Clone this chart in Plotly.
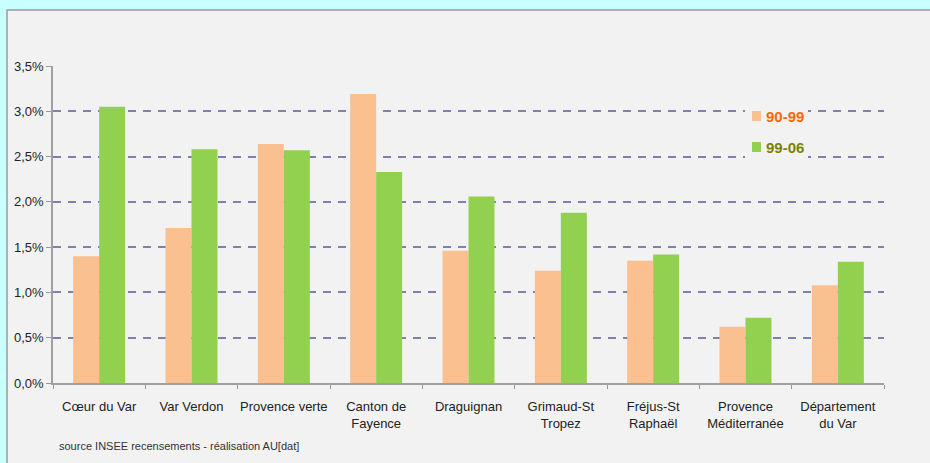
import plotly.graph_objects as go

# Annual population growth rate by territory, two intercensal periods
categories = [
    "Cœur du Var", "Var Verdon", "Provence verte", "Canton de<br>Fayence",
    "Draguignan", "Grimaud-St<br>Tropez", "Fréjus-St<br>Raphaël",
    "Provence<br>Méditerranée", "Département<br>du Var",
]
rate_90_99 = [1.40, 1.71, 2.64, 3.19, 1.46, 1.24, 1.35, 0.62, 1.08]
rate_99_06 = [3.05, 2.58, 2.57, 2.33, 2.06, 1.88, 1.42, 0.72, 1.34]
y_ticks = [0, 0.5, 1.0, 1.5, 2.0, 2.5, 3.0, 3.5]
y_tick_labels = ["0,0%", "0,5%", "1,0%", "1,5%", "2,0%", "2,5%", "3,0%", "3,5%"]
series_names = ["90-99", "99-06"]
series_colors = ["#FAC090", "#92D050"]
legend_text_colors = ["#FF6600", "#808000"]

FONT = "Liberation Sans, Arial, sans-serif"
PANEL = "#F2F2F2"
GRID = "rgb(128,128,176)"

# plot-area geometry in pixels, used to place paper-relative decorations
L, R, T, B = 53, 884, 66, 383
W, H = R - L, B - T


def px(x):
    return (x - L) / W


def py(y):
    return (B - y) / H


fig = go.Figure()
for name, vals, col in zip(series_names, [rate_90_99, rate_99_06], series_colors):
    fig.add_trace(go.Bar(
        x=categories, y=vals, name=name, showlegend=False,
        marker=dict(color=col, line=dict(width=0)),
    ))

# light grey panel with a thin border, set on the cyan page
fig.add_shape(
    type="rect", xref="paper", yref="paper", layer="below",
    x0=px(7), x1=1.1, y0=-0.3, y1=py(10),
    fillcolor=PANEL, line=dict(color="#9A9A9A", width=1.5),
)

# legend block: panel-coloured backdrop, colour swatches and bold labels
fig.add_shape(
    type="rect", xref="paper", yref="paper", layer="above",
    x0=px(745), x1=px(808), y0=py(163), y1=py(100),
    fillcolor=PANEL, line=dict(width=0),
)
for i, (name, col, tcol) in enumerate(zip(series_names, series_colors, legend_text_colors)):
    yc = 116 + 31 * i
    fig.add_shape(
        type="rect", xref="paper", yref="paper", layer="above",
        x0=px(752), x1=px(761), y0=py(yc + 5), y1=py(yc - 5),
        fillcolor=col, line=dict(width=0),
    )
    fig.add_annotation(
        text=f"<b>{name}</b>", xref="paper", yref="paper",
        x=px(764), y=py(yc), xanchor="left", yanchor="middle", showarrow=False,
        font=dict(family=FONT, size=15, color=tcol),
    )

fig.add_annotation(
    text="source INSEE recensements - réalisation AU[dat]",
    xref="paper", yref="paper", x=px(57), y=py(446),
    xanchor="left", yanchor="middle", showarrow=False,
    font=dict(family=FONT, size=11, color="#333333"),
)

fig.update_layout(
    width=930, height=463,
    margin=dict(l=L, r=930 - R, t=T, b=463 - B),
    paper_bgcolor="#C8FFFF", plot_bgcolor=PANEL,
    font=dict(family=FONT, size=13, color="#222222"),
    barmode="group", bargap=0.437, bargroupgap=0,
    showlegend=False,
    xaxis=dict(
        type="category", tickson="boundaries", ticks="outside", ticklen=4,
        tickcolor="#999999", showline=True, linecolor="#A0A0A0", linewidth=1.5,
        tickangle=0, ticklabelstandoff=11,
        tickfont=dict(family=FONT, size=13, color="#222222"),
    ),
    yaxis=dict(
        range=[0, 3.5], tickvals=y_ticks, ticktext=y_tick_labels,
        ticks="outside", ticklen=5, tickcolor="#999999",
        showline=True, linecolor="#A0A0A0", linewidth=1.5,
        showgrid=True, gridcolor=GRID, gridwidth=1.5, griddash="8px,7px",
        zeroline=False, tickfont=dict(family=FONT, size=13, color="#222222"),
    ),
)

fig.write_html("out.html")
